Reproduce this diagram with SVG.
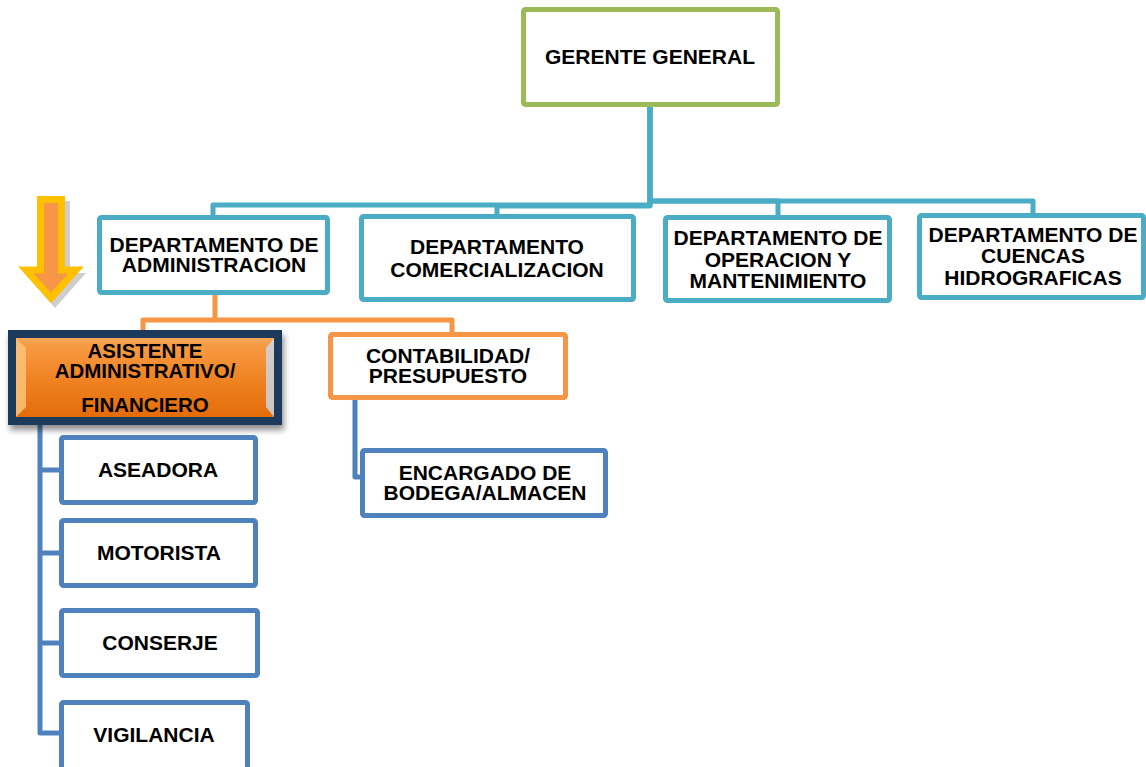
<svg xmlns="http://www.w3.org/2000/svg" width="1146" height="767" viewBox="0 0 1146 767">
<style>
.t{font-family:"Liberation Sans",Arial,sans-serif;font-weight:bold;font-size:21px;fill:#000;text-anchor:middle}
.gb{fill:#fff;stroke:#9BBB59;stroke-width:5}
.db{fill:#fff;stroke:#4BACC6;stroke-width:5}
.ob{fill:#fff;stroke:#F79646;stroke-width:5}
.bb{fill:#fff;stroke:#4F81BD;stroke-width:5}
.cd{fill:none;stroke:#4BACC6;stroke-width:5;stroke-linejoin:round}
.co{fill:none;stroke:#F79646;stroke-width:5;stroke-linejoin:round}
.cb{fill:none;stroke:#4F81BD;stroke-width:5;stroke-linejoin:round}
</style>
<defs>
<linearGradient id="og" x1="0" y1="0" x2="0" y2="1">
<stop offset="0" stop-color="#F9A04A"/>
<stop offset="0.5" stop-color="#F08424"/>
<stop offset="1" stop-color="#E36C0A"/>
</linearGradient>
<filter id="sh" x="-20%" y="-20%" width="140%" height="150%">
<feGaussianBlur in="SourceAlpha" stdDeviation="3"/>
<feOffset dx="2" dy="5" result="b"/>
<feComponentTransfer><feFuncA type="linear" slope="0.45"/></feComponentTransfer>
<feMerge><feMergeNode/><feMergeNode in="SourceGraphic"/></feMerge>
</filter>
</defs>
<g id="connectors">
<path class="cd" d="M650,107 V205 H213 V215"/>
<path class="cd" d="M650,107 V206 H497 V214"/>
<path class="cd" d="M650,107 V201 H778 V215"/>
<path class="cd" d="M650,107 V201 H1033 V213"/>
<path class="co" d="M215,295 V320 H143 V330"/>
<path class="co" d="M215,320 H452 V332"/>
<path class="cb" d="M355,400 V477 H360"/>
<path class="cb" d="M40,425 V733 H59 M40,470 H59 M40,553 H59 M40,643 H59"/>
</g>
<g id="arrow">
<polygon points="41,201 70,201 70,273 86,273 55,308 25,273 41,273" fill="#A6A6A6" opacity="0.55"/>
<polygon points="40.5,199.5 61.5,199.5 61.5,270 76,270 51,298 26,270 40.5,270" fill="#F79646" stroke="#FFC000" stroke-width="7" stroke-linejoin="miter"/>
</g>
<g id="gerente">
<rect class="gb" x="523.5" y="9.5" width="254" height="95" rx="2"/>
<text class="t" x="650" y="64">GERENTE GENERAL</text>
</g>
<g id="dep-admin">
<rect class="db" x="99.5" y="217.5" width="228" height="75" rx="2"/>
<text class="t" x="214" y="252">DEPARTAMENTO DE</text>
<text class="t" x="214" y="272">ADMINISTRACION</text>
</g>
<g id="dep-comercial">
<rect class="db" x="361.5" y="216.5" width="272" height="83" rx="2"/>
<text class="t" x="497" y="254">DEPARTAMENTO</text>
<text class="t" x="497" y="277">COMERCIALIZACION</text>
</g>
<g id="dep-operacion">
<rect class="db" x="665.5" y="217.5" width="224" height="83" rx="2"/>
<text class="t" x="778" y="245">DEPARTAMENTO DE</text>
<text class="t" x="778" y="267">OPERACION Y</text>
<text class="t" x="778" y="288">MANTENIMIENTO</text>
</g>
<g id="dep-cuencas">
<rect class="db" x="919.5" y="215.5" width="224" height="82" rx="2"/>
<text class="t" x="1033" y="242">DEPARTAMENTO DE</text>
<text class="t" x="1033" y="263">CUENCAS</text>
<text class="t" x="1033" y="285">HIDROGRAFICAS</text>
</g>
<g id="asistente">
<rect x="8" y="330" width="274" height="95" fill="#1F3A5C" filter="url(#sh)"/>
<rect x="16" y="338" width="258" height="79" fill="url(#og)"/>
<polygon points="16,338 26,348 26,407 16,417" fill="#FBC37A" opacity="0.85"/>
<polygon points="274,338 266,348 266,407 274,417" fill="#C9D9EE" opacity="0.8"/>
<polygon points="16,338 274,338 266,343 26,343" fill="#F6A85A" opacity="0.7"/>
<text class="t" x="145" y="358" style="font-size:20.5px">ASISTENTE</text>
<text class="t" x="145" y="378" style="font-size:20.5px">ADMINISTRATIVO/</text>
<text class="t" x="145" y="412" style="font-size:20.5px">FINANCIERO</text>
</g>
<g id="contabilidad">
<rect class="ob" x="330.5" y="334.5" width="235" height="63" rx="2"/>
<text class="t" x="448" y="363">CONTABILIDAD/</text>
<text class="t" x="448" y="383">PRESUPUESTO</text>
</g>
<g id="encargado">
<rect class="bb" x="362.5" y="450.5" width="243" height="65" rx="2"/>
<text class="t" x="485" y="480">ENCARGADO DE</text>
<text class="t" x="485" y="500">BODEGA/ALMACEN</text>
</g>
<g id="aseadora">
<rect class="bb" x="61.5" y="437.5" width="194" height="65" rx="2"/>
<text class="t" x="158" y="477">ASEADORA</text>
</g>
<g id="motorista">
<rect class="bb" x="61.5" y="520.5" width="194" height="65" rx="2"/>
<text class="t" x="159" y="560">MOTORISTA</text>
</g>
<g id="conserje">
<rect class="bb" x="61.5" y="610.5" width="196" height="65" rx="2"/>
<text class="t" x="160" y="650">CONSERJE</text>
</g>
<g id="vigilancia">
<rect class="bb" x="61.5" y="702.5" width="186" height="72" rx="2"/>
<text class="t" x="154" y="742">VIGILANCIA</text>
</g>
</svg>
